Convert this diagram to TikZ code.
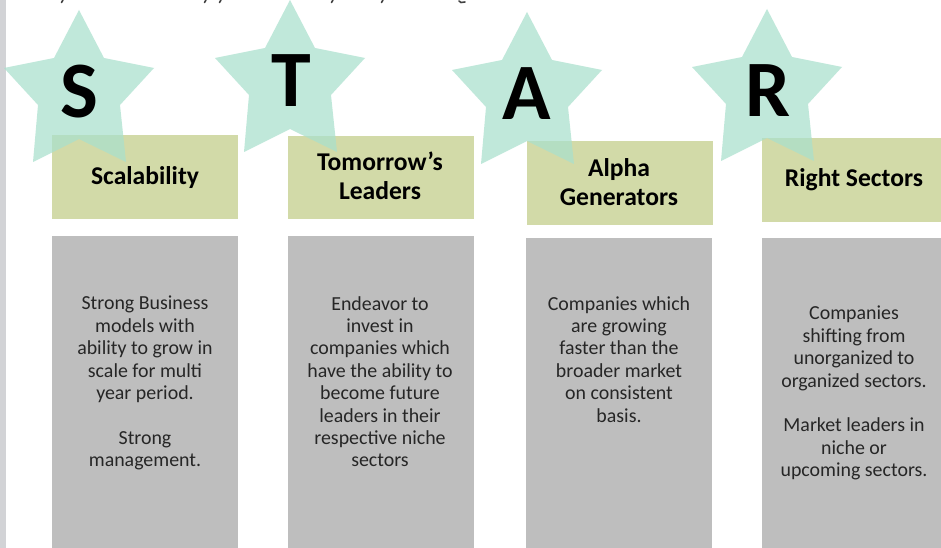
\documentclass[tikz,border=0pt]{standalone}
\usepackage{fontspec}
\setmainfont{Carlito}
\definecolor{stargreen}{HTML}{A9E0CD}
\definecolor{headgreen}{HTML}{D2DAA8}
\definecolor{bodygrey}{HTML}{BEBEBE}
\definecolor{edgegrey}{HTML}{D2D3D6}
\tikzset{x=1pt,y=-1pt,
 head/.style={fill=headgreen,draw=none,inner sep=0pt},
 bodybox/.style={fill=bodygrey,draw=none,inner sep=0pt},
 starshape/.style={fill=stargreen,draw=none,fill opacity=.72},
 headtext/.style={font=\fontsize{25.6}{29}\selectfont\bfseries,align=center,text=black,inner sep=0pt},
 bodytext/.style={font=\fontsize{19.9}{22.4pt}\selectfont,align=center,text=black!85,inner sep=0pt},
 letter/.style={font=\fontsize{80}{80}\selectfont\bfseries,text=black,inner sep=0pt},
 cutoff/.style={draw=black!75,line width=1.6pt,line cap=round}}
\newcommand{\starat}[2]{% cx, tip y
 \fill[starshape] (#1+0,#2) -- (#1+25,#2+48) -- (#1+75,#2+58) -- (#1+41,#2+95) -- (#1+47,#2+152) -- (#1+0,#2+129) -- (#1-46,#2+152) -- (#1-41,#2+95) -- (#1-75,#2+58) -- (#1-25,#2+48) -- cycle;}
\begin{document}
\begin{tikzpicture}
\useasboundingbox (0,0) rectangle (941,548);
\fill[white] (0,0) rectangle (941,548);
\fill[edgegrey] (0,0) rectangle (5.5,548);
\foreach \px in {63,206,221,333,383}{\draw[cutoff] (\px,0) -- (\px-1.5,2.5);}
\draw[cutoff] (459,1) -- (461,2.5) -- (465,2);
\node[head,minimum width=186pt,minimum height=84pt,anchor=north west] (h1) at (52,135) {};
\node[head,minimum width=186pt,minimum height=83pt,anchor=north west] (h2) at (288,136) {};
\node[head,minimum width=186pt,minimum height=84pt,anchor=north west] (h3) at (527,141) {};
\node[head,minimum width=179pt,minimum height=84pt,anchor=north west] (h4) at (762,138) {};
\node[bodybox,minimum width=186pt,minimum height=312pt,anchor=north west] (b1) at (52,236) {};
\node[bodybox,minimum width=186pt,minimum height=312pt,anchor=north west] (b2) at (288,236) {};
\node[bodybox,minimum width=186pt,minimum height=310pt,anchor=north west] (b3) at (526,238) {};
\node[bodybox,minimum width=179pt,minimum height=310pt,anchor=north west] (b4) at (762,238) {};
\starat{79}{10}
\starat{290}{0}
\starat{527}{12}
\starat{767}{9}
\node[letter] (s) at (79,92) {S};
\node[letter] (t) at (291,81) {T};
\node[letter] (a) at (527,94) {A};
\node[letter] (r) at (768,91) {R};
\node[headtext] (t1) at (145,178) {Scalability};
\node[headtext] (t2) at (380,176) {Tomorrow’s\\Leaders};
\node[headtext] (t3) at (619,182) {Alpha\\Generators};
\node[headtext] (t4) at (854,180) {Right Sectors};
\node[bodytext,anchor=north] (d1) at (145,296) {Strong Business\\models with\\ability to grow in\\scale for multi\\year period.\\[22.4pt]Strong\\management.};
\node[bodytext,anchor=north] (d2) at (380,296) {Endeavor to\\invest in\\companies which\\have the ability to\\become future\\leaders in their\\respective niche\\sectors};
\node[bodytext,anchor=north] (d3) at (619,296) {Companies which\\are growing\\faster than the\\broader market\\on consistent\\basis.};
\node[bodytext,anchor=north] (d4) at (854,306) {Companies\\shifting from\\unorganized to\\organized sectors.\\[22.4pt]Market leaders in\\niche or\\upcoming sectors.};
\end{tikzpicture}
\end{document}
